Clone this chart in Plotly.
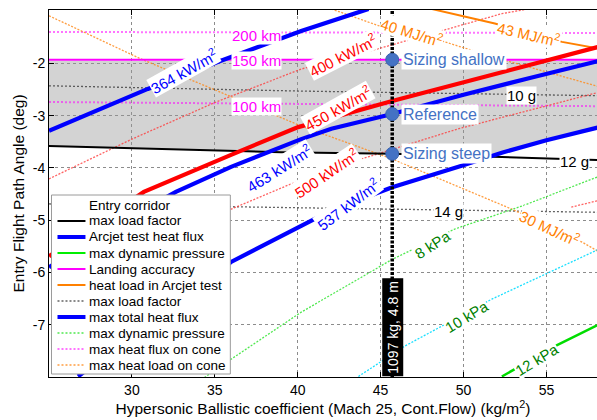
import plotly.graph_objects as go

FONT = "Arial, Liberation Sans, Helvetica, sans-serif"

# ---------------- data ----------------
x_tick_values = [30, 35, 40, 45, 50, 55]
y_tick_values = [-7, -6, -5, -4, -3, -2]
y_tick_labels = ["-7", "-6", "-5", "-4", "-3", "-2"]

# entry corridor (grey area)
corridor_x = [25, 58.2, 58.2, 55.0, 52.31, 51.7, 45.7, 39.0, 25]
corridor_y = [-1.95, -1.95, -3.22, -3.47, -3.71, -3.785, -3.73, -3.70, -3.58]

# max load factor contours (g)
lf12_x = [25, 39.0, 45.7, 51.71, 58.2]
lf12_y = [-3.58, -3.70, -3.73, -3.79, -3.85]
lf10_x = [25, 40, 58.2]
lf10_y = [-2.43, -2.53, -2.62]
lf14_x = [25, 40, 58.2]
lf14_y = [-4.69, -4.76, -4.85]

# landing accuracy (km)
la150_x = [25, 58.2]
la150_y = [-1.93, -1.93]
la200_x = [25, 58.2]
la200_y = [-1.40, -1.42]
la100_x = [25, 58.2]
la100_y = [-2.74, -2.82]

# heat flux contours (kW/m2)
q364_x = [25, 30.96, 35.37, 39.0, 40.21, 44.27]
q364_y = [-3.29, -2.49, -1.95, -1.53, -1.38, -0.96]
q463_x = [25, 29, 32.65, 35.98, 40.21, 42.03, 45.7, 50.0, 54.0, 58.2]
q463_y = [-5.90, -5.10, -4.46, -3.98, -3.45, -3.25, -2.97, -2.60, -2.28, -1.95]
q537_x = [26.75, 30, 33, 35.98, 40.21, 41.0, 44.63, 45.7, 49.89, 52.31, 55.0, 58.2]
q537_y = [-7.99, -7.22, -6.51, -5.80, -5.11, -4.98, -4.50, -4.37, -3.96, -3.71, -3.47, -3.22]
q450_x = [25, 30.72, 35.98, 40.03, 45.7, 52.92, 58.2]
q450_y = [-5.69, -4.46, -3.75, -3.22, -2.72, -2.11, -1.68]
q400_x = [25, 30, 35, 40.21, 44.87, 48.69, 52.31, 53.9]
q400_y = [-4.21, -3.45, -2.75, -2.11, -1.72, -1.38, -1.05, -0.96]
q500_x = [30, 35.98, 39.42, 43.84, 49.71, 58.2]
q500_y = [-5.65, -4.79, -4.33, -3.83, -3.25, -2.55]
q550_x = [56.5, 58.2]
q550_y = [-4.75, -4.62]

# heat load contours (MJ/m2)
h30_x = [25, 30.5, 40.21, 45.7, 52.92, 57.15, 58.2]
h30_y = [-1.09, -1.91, -3.20, -3.83, -4.79, -5.42, -5.61]
h40_x = [42.03, 44.87, 48.87, 51.8, 54.5, 58.2]
h40_y = [-0.96, -1.28, -1.59, -1.88, -2.12, -2.45]
h43_x = [48.08, 51.89, 55.94, 58.2]
h43_y = [-0.96, -1.24, -1.59, -1.72]

# dynamic pressure contours (kPa)
p8_x = [33.5, 35.98, 40.21, 45.7, 49.47, 53.52, 58.2]
p8_y = [-8.2, -7.66, -6.76, -5.75, -5.17, -4.73, -4.16]
p10_x = [43.66, 46.45, 51.71, 58.2]
p10_y = [-7.99, -7.41, -6.51, -5.55]
p12_x = [52.31, 55.52, 58.2]
p12_y = [-7.99, -7.41, -6.99]

# design points
design_bc = 45.7
sizing_names = ["Sizing shallow", "Reference", "Sizing steep"]
sizing_y = [-1.93, -2.97, -3.73]
design_label = "1097 kg, 4.8 m"

legend_labels = ["Entry corridor", "max load factor", "Arcjet test heat flux",
                 "max dynamic pressure", "Landing accuracy", "heat load in Arcjet test",
                 "max load factor", "max total heat flux", "max dynamic pressure",
                 "max heat flux on cone", "max heat load on cone"]

# ---------------- styles ----------------
BLUE = "#0000ff"
RED = "#ff0000"
ORANGE = "#ff8000"
MAG = "#ff00ff"
PTS = "#4472C4"
DKGREEN = "#008000"

fig = go.Figure()


def line(x, y, color, width, dash=None):
    fig.add_trace(go.Scatter(x=x, y=y, mode="lines", showlegend=False, hoverinfo="skip",
                             line=dict(color=color, width=width, dash=dash)))


fig.add_trace(go.Scatter(x=corridor_x, y=corridor_y, mode="lines", fill="toself",
                         fillcolor="rgba(150,150,150,0.42)", line=dict(width=0),
                         showlegend=False, hoverinfo="skip"))

# thin dotted contours
line(la200_x, la200_y, "rgba(255,0,255,0.55)", 2, "2px,2px")
line(la100_x, la100_y, "rgba(255,0,255,0.55)", 2, "2px,2px")
line(lf10_x, lf10_y, "rgba(60,60,60,0.8)", 1.3, "2px,2px")
line(lf14_x, lf14_y, "rgba(60,60,60,0.8)", 1.3, "2px,2px")
line(q400_x, q400_y, "rgba(255,60,60,0.8)", 1.3, "2px,1.5px")
line(q500_x, q500_y, "rgba(255,60,60,0.8)", 1.3, "2px,1.5px")
line(q550_x, q550_y, "rgba(255,60,60,0.8)", 1.3, "2px,1.5px")
line(h30_x, h30_y, "rgba(255,140,30,0.85)", 1.3, "2px,1.5px")
line(h40_x, h40_y, "rgba(255,140,30,0.85)", 1.3, "2px,1.5px")
line(p8_x, p8_y, "rgba(60,230,60,0.9)", 1.3, "2px,1.5px")
line(p10_x, p10_y, "rgba(0,220,255,0.9)", 1.3, "2px,1.5px")

# solid contours
line(la150_x, la150_y, MAG, 2)
line(lf12_x, lf12_y, "#000000", 2)
line(h43_x, h43_y, ORANGE, 2)
line(p12_x, p12_y, "#00dd00", 2.5)

# thick contours
line(q450_x, q450_y, RED, 4.2)
line(q364_x, q364_y, BLUE, 4.2)
line(q463_x, q463_y, BLUE, 4.2)
line(q537_x, q537_y, BLUE, 4.2)

# design line
line([design_bc, design_bc], [-8.2, -0.5], "#000000", 3.5, "3px,1.5px")

fig.add_trace(go.Scatter(x=[design_bc] * len(sizing_y), y=sizing_y, mode="markers",
                         marker=dict(size=13, color=PTS, line=dict(color="#3a64b0", width=1)),
                         showlegend=False, hoverinfo="skip"))

# ---------------- inline contour labels ----------------
contour_labels = [
    ("364 kW/m<sup>2</sup>", 33.14, -2.14, -29, BLUE),
    ("200 km", 37.5, -1.47, 0, MAG),
    ("150 km", 37.5, -1.95, 0, MAG),
    ("100 km", 37.5, -2.83, 0, MAG),
    ("400 kW/m<sup>2</sup>", 42.76, -1.84, -27, RED),
    ("450 kW/m<sup>2</sup>", 42.45, -2.85, -29, RED),
    ("463 kW/m<sup>2</sup>", 38.89, -3.99, -32, BLUE),
    ("500 kW/m<sup>2</sup>", 41.73, -4.08, -34, RED),
    ("537 kW/m<sup>2</sup>", 43.06, -4.68, -37, BLUE),
    ("40 MJ/m<sup>2</sup>", 46.87, -1.40, 17, ORANGE),
    ("43 MJ/m<sup>2</sup>", 53.95, -1.43, 13, ORANGE),
    ("30 MJ/m<sup>2</sup>", 55.22, -5.14, 25, ORANGE),
    ("10 g", 53.52, -2.62, 0, "#000000"),
    ("12 g", 56.67, -3.87, 0, "#000000"),
    ("14 g", 49.1, -4.83, 0, "#000000"),
    ("8 kPa", 48.14, -5.46, -33, DKGREEN),
    ("10 kPa", 50.2, -6.84, -31, DKGREEN),
    ("12 kPa", 54.43, -7.66, -31, DKGREEN),
]
annotations = []
for txt, ax_, ay_, ang, col in contour_labels:
    annotations.append(dict(x=ax_, y=ay_, xref="x", yref="y", text=txt, showarrow=False,
                            textangle=ang, bgcolor="white", borderpad=0,
                            font=dict(family=FONT, size=15, color=col)))

for name, yv in zip(sizing_names, sizing_y):
    annotations.append(dict(x=design_bc + 0.55, y=yv, xref="x", yref="y", text=name,
                            showarrow=False, xanchor="left", bgcolor="white", borderpad=1,
                            font=dict(family=FONT, size=16, color=PTS)))

annotations.append(dict(x=design_bc, y=-8.0, xref="x", yref="y", text=design_label,
                        showarrow=False, textangle=-90, yanchor="bottom", bgcolor="black",
                        borderpad=2, font=dict(family=FONT, size=14, color="white")))

# ---------------- manual legend ----------------
PL, PR, PT, PB = 48.5, 597.0, 10.0, 377.0


def px2paper(px, py):
    return (px - PL) / (PR - PL), (PB - py) / (PB - PT)


shapes = []
lx0, ly0 = px2paper(51, 195)
lx1, ly1 = px2paper(230, 374)
shapes.append(dict(type="rect", xref="paper", yref="paper", x0=lx0, y0=ly1, x1=lx1, y1=ly0,
                   fillcolor="white", line=dict(color="#9a9a9a", width=1), layer="above"))

legend_styles = [
    None,
    ("#000000", 2, None),
    (BLUE, 4, None),
    ("#00ee00", 2, None),
    (MAG, 2, None),
    (ORANGE, 2, None),
    ("rgba(60,60,60,0.8)", 1.3, "2px,2px"),
    (BLUE, 4, None),
    ("rgba(60,230,60,0.9)", 1.5, "2px,2px"),
    ("rgba(255,0,255,0.55)", 1.8, "2px,2px"),
    ("rgba(255,140,30,0.85)", 1.5, "2px,2px"),
]
for i, (lab, sty) in enumerate(zip(legend_labels, legend_styles)):
    py = 205 + 16 * i
    if sty is not None:
        sx0, sy = px2paper(57, py)
        sx1, _ = px2paper(85, py)
        shapes.append(dict(type="line", xref="paper", yref="paper", x0=sx0, x1=sx1, y0=sy, y1=sy,
                           line=dict(color=sty[0], width=sty[1], dash=sty[2]), layer="above"))
    tx, ty = px2paper(87, py)
    annotations.append(dict(x=tx, y=ty, xref="paper", yref="paper", text=lab, showarrow=False,
                            xanchor="left", yanchor="middle",
                            font=dict(family=FONT, size=13.5, color="black")))

fig.update_layout(
    width=597, height=420,
    margin=dict(l=48.5, r=0, t=10, b=43),
    paper_bgcolor="white", plot_bgcolor="white",
    font=dict(family=FONT, size=14, color="black"),
    shapes=shapes, annotations=annotations, showlegend=False,
    xaxis=dict(range=[25, 58.05], tickvals=x_tick_values, ticks="inside", ticklen=5,
               tickcolor="black", showline=True, linecolor="black", linewidth=1, mirror="ticks",
               showgrid=True, gridcolor="rgba(0,0,0,0.45)", griddash="dot", gridwidth=1,
               zeroline=False, tickfont=dict(family=FONT, size=14),
               title=dict(text="Hypersonic Ballistic coefficient (Mach 25, Cont.Flow) (kg/m<sup>2</sup>)",
                          font=dict(family=FONT, size=15.5), standoff=4)),
    yaxis=dict(range=[-8.0, -0.98], tickvals=y_tick_values, ticktext=y_tick_labels,
               ticks="inside", ticklen=5, tickcolor="black", showline=True, linecolor="black",
               linewidth=1, mirror=False, showgrid=True, gridcolor="rgba(0,0,0,0.45)",
               griddash="dot", gridwidth=1, zeroline=False, tickfont=dict(family=FONT, size=14),
               title=dict(text="Entry Flight Path Angle (deg)", font=dict(family=FONT, size=15.5),
                          standoff=4)),
)

fig.write_html("out.html", config={"displayModeBar": False},
               post_script="document.body.style.margin='0px';")
